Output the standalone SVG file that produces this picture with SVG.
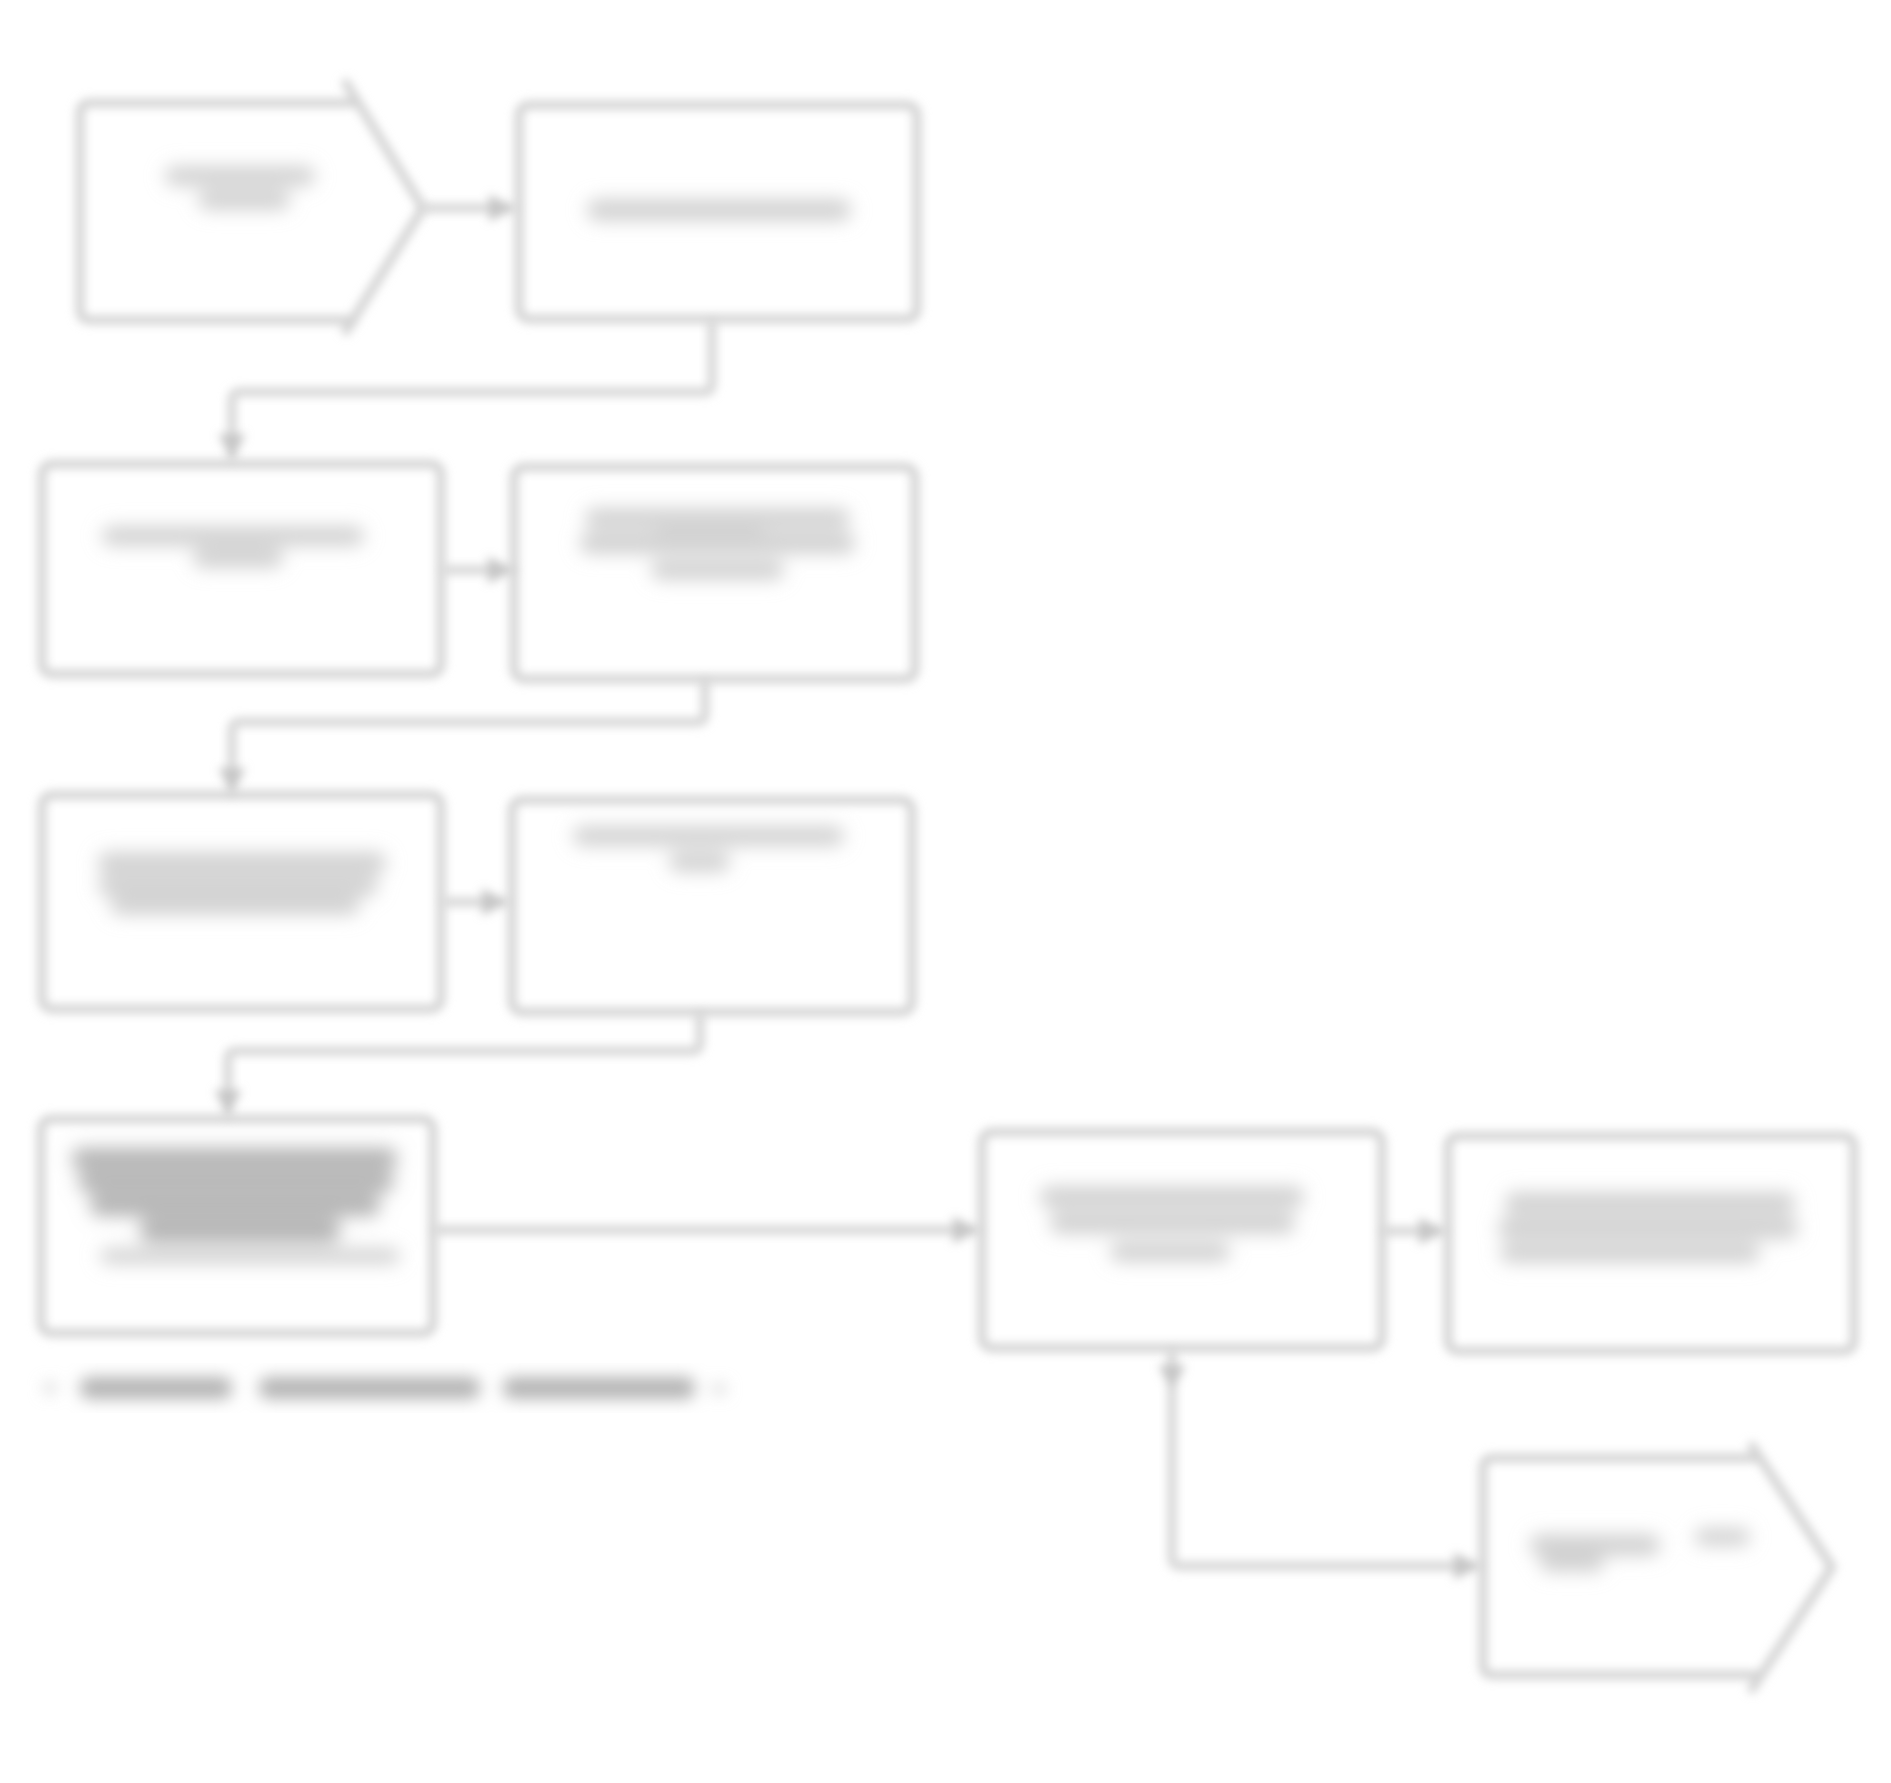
<svg xmlns="http://www.w3.org/2000/svg" width="1891" height="1783" viewBox="0 0 1891 1783">
<defs>
<style>
.box{fill:none;stroke:#d3d3d3;stroke-width:9;stroke-linejoin:round}
.edge{fill:none;stroke:#d6d6d6;stroke-width:9;stroke-linejoin:round}
.ill{fill:#d2d2d2}
.illd{fill:#b4b4b4}
</style>
<filter id="soft" x="-10%" y="-10%" width="120%" height="120%"><feGaussianBlur stdDeviation="5"/></filter>
<filter id="softer" x="-20%" y="-60%" width="140%" height="220%"><feGaussianBlur stdDeviation="8"/></filter>
<marker id="arr" viewBox="0 0 10 10" refX="10" refY="5" markerWidth="3" markerHeight="3" orient="auto" markerUnits="strokeWidth"><path d="M0,0 L10,5 L0,10 z" fill="#c6c6c6"/></marker>
</defs>
<rect width="1891" height="1783" fill="#ffffff"/>
<g id="connectors" filter="url(#soft)">
<line class="edge" x1="423" y1="208" x2="516" y2="208" marker-end="url(#arr)"/>
<path class="edge" d="M712,320 V384 Q712,392 704,392 H240 Q232,392 232,400 V461" marker-end="url(#arr)"/>
<line class="edge" x1="443" y1="570" x2="515" y2="570" marker-end="url(#arr)"/>
<path class="edge" d="M705,679 V714 Q705,722 697,722 H240 Q232,722 232,730 V795" marker-end="url(#arr)"/>
<line class="edge" x1="443" y1="902" x2="509" y2="902" marker-end="url(#arr)"/>
<path class="edge" d="M700,1012 V1043 Q700,1051 692,1051 H236 Q228,1051 228,1059 V1117" marker-end="url(#arr)"/>
<line class="edge" x1="434" y1="1230" x2="980" y2="1230" marker-end="url(#arr)"/>
<line class="edge" x1="1382" y1="1231" x2="1446" y2="1231" marker-end="url(#arr)"/>
<path class="edge" d="M1172,1349 V1392" marker-end="url(#arr)"/>
<path class="edge" d="M1172,1385 V1558 Q1172,1566 1180,1566 H1481" marker-end="url(#arr)"/>
</g>
<g id="nodeA" filter="url(#soft)">
<path class="box" d="M358,103 H90 Q80,103 80,113 V310 Q80,320 90,320 H358"/>
<path class="box" d="M344,80 L423,208 L344,334"/>
<g filter="url(#softer)"><rect class="ill" x="165" y="166" width="150" height="20" rx="9"/><rect class="ill" x="198" y="190" width="92" height="20" rx="9"/></g>
</g>
<g id="nodeB" filter="url(#soft)">
<rect class="box" x="519" y="105" width="398" height="214" rx="10"/>
<g filter="url(#softer)"><rect class="ill" x="587" y="199" width="264" height="22" rx="10"/></g>
</g>
<g id="nodeC" filter="url(#soft)">
<rect class="box" x="42" y="464" width="399" height="210" rx="10"/>
<g filter="url(#softer)"><rect class="ill" x="102" y="526" width="262" height="20" rx="9"/><rect class="ill" x="193" y="548" width="90" height="20" rx="9"/></g>
</g>
<g id="nodeD" filter="url(#soft)">
<rect class="box" x="514" y="467" width="401" height="212" rx="10"/>
<g filter="url(#softer)"><rect class="ill" x="585" y="508" width="265" height="20" rx="9"/><rect class="illd" x="650" y="530" width="120" height="22" rx="9"/><rect class="ill" x="580" y="532" width="275" height="22" rx="9"/><rect class="ill" x="651" y="560" width="133" height="20" rx="9"/></g>
</g>
<g id="nodeE" filter="url(#soft)">
<rect class="box" x="42" y="795" width="399" height="214" rx="10"/>
<g filter="url(#softer)"><rect class="ill" x="98" y="852" width="288" height="22" rx="9"/><rect class="ill" x="98" y="876" width="280" height="20" rx="9"/><rect class="ill" x="110" y="897" width="250" height="18" rx="9"/></g>
</g>
<g id="nodeF" filter="url(#soft)">
<rect class="box" x="512" y="800" width="400" height="212" rx="10"/>
<g filter="url(#softer)"><rect class="ill" x="573" y="826" width="271" height="20" rx="9"/><rect class="ill" x="669" y="852" width="61" height="20" rx="9"/></g>
</g>
<g id="nodeG" filter="url(#soft)">
<rect class="box" x="41" y="1119" width="392" height="214" rx="10"/>
<g filter="url(#softer)"><rect class="illd" x="72" y="1148" width="325" height="22" rx="9"/><rect class="illd" x="78" y="1172" width="316" height="20" rx="9"/><rect class="illd" x="90" y="1194" width="290" height="22" rx="9"/><rect class="illd" x="140" y="1218" width="200" height="24" rx="9"/><rect class="ill" x="100" y="1248" width="300" height="16" rx="8"/></g>
</g>
<g id="nodeH" filter="url(#soft)">
<rect class="box" x="982" y="1132" width="400" height="216" rx="10"/>
<g filter="url(#softer)"><rect class="ill" x="1040" y="1186" width="264" height="22" rx="9"/><rect class="ill" x="1050" y="1212" width="245" height="22" rx="9"/><rect class="ill" x="1110" y="1242" width="120" height="20" rx="9"/></g>
</g>
<g id="nodeI" filter="url(#soft)">
<rect class="box" x="1448" y="1136" width="406" height="215" rx="10"/>
<g filter="url(#softer)"><rect class="ill" x="1505" y="1192" width="290" height="22" rx="9"/><rect class="ill" x="1498" y="1217" width="300" height="22" rx="9"/><rect class="ill" x="1500" y="1243" width="260" height="20" rx="9"/></g>
</g>
<g id="nodeJ" filter="url(#soft)">
<path class="box" d="M1760,1458 H1493 Q1483,1458 1483,1468 V1665 Q1483,1675 1493,1675 H1760"/>
<path class="box" d="M1750,1443 L1832,1567 L1750,1692"/>
<g filter="url(#softer)"><rect class="ill" x="1530" y="1534" width="130" height="22" rx="9"/><rect class="ill" x="1695" y="1528" width="55" height="18" rx="8"/><rect class="ill" x="1540" y="1556" width="64" height="16" rx="8"/></g>
</g>
<g id="note" filter="url(#softer)">
<rect class="ill" x="44" y="1382" width="12" height="12" rx="6"/>
<rect class="illd" x="80" y="1377" width="152" height="22" rx="9"/>
<rect class="illd" x="259" y="1377" width="221" height="22" rx="9"/>
<rect class="illd" x="503" y="1377" width="192" height="22" rx="9"/>
<rect class="ill" x="712" y="1384" width="14" height="10" rx="5"/>
</g>
</svg>
